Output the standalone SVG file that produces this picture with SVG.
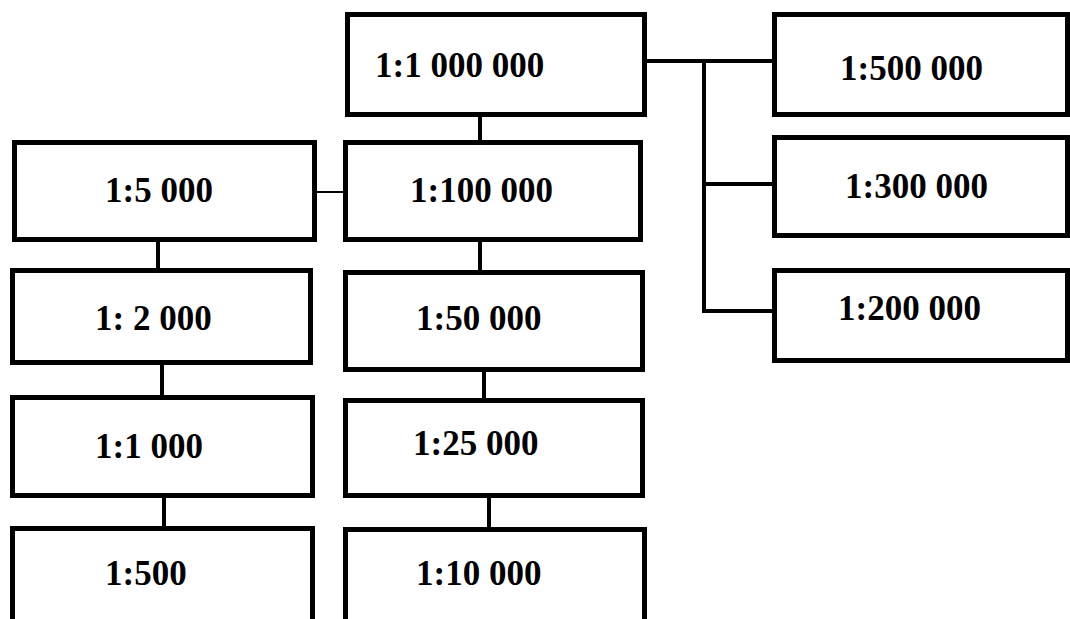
<svg xmlns="http://www.w3.org/2000/svg" width="1070" height="619" viewBox="0 0 1070 619">
<style>
.box{fill:#fff;stroke:#000;stroke-width:5}
.lbl{font-family:"Liberation Serif","Times New Roman",serif;font-weight:bold;font-size:35px;fill:#000}
.con{stroke:#000;stroke-width:4;fill:none}
</style>
<rect width="1070" height="619" fill="#fff"/>
<g id="connectors">
<line class="con" x1="480" y1="117" x2="480" y2="142"/>
<line class="con" x1="645" y1="61" x2="774" y2="61"/>
<polyline class="con" points="704,61 704,311 774,311"/>
<line class="con" x1="704" y1="184" x2="774" y2="184"/>
<line class="con" x1="315" y1="192" x2="345" y2="192" style="stroke-width:2"/>
<line class="con" x1="158" y1="240" x2="158" y2="270"/>
<line class="con" x1="162" y1="363" x2="162" y2="397"/>
<line class="con" x1="164" y1="496" x2="164" y2="527"/>
<line class="con" x1="480" y1="240" x2="480" y2="272"/>
<line class="con" x1="484" y1="370" x2="484" y2="400"/>
<line class="con" x1="489" y1="496" x2="489" y2="528"/>
</g>
<g id="n1000000"><rect class="box" x="347.5" y="14.5" width="297" height="100"/><text class="lbl" x="375" y="77">1:1 000 000</text></g>
<g id="n500000"><rect class="box" x="774.5" y="14.5" width="293" height="100"/><text class="lbl" x="840" y="80">1:500 000</text></g>
<g id="n300000"><rect class="box" x="774.5" y="137.5" width="293" height="98"/><text class="lbl" x="845" y="198">1:300 000</text></g>
<g id="n200000"><rect class="box" x="774.5" y="270.5" width="293" height="90"/><text class="lbl" x="838" y="320">1:200 000</text></g>
<g id="n100000"><rect class="box" x="345.5" y="142.5" width="295" height="97"/><text class="lbl" x="410" y="202">1:100 000</text></g>
<g id="n5000"><rect class="box" x="14.5" y="142.5" width="300" height="97"/><text class="lbl" x="105" y="202">1:5 000</text></g>
<g id="n2000"><rect class="box" x="12.5" y="270.5" width="298" height="92"/><text class="lbl" x="95" y="330">1: 2 000</text></g>
<g id="n50000"><rect class="box" x="345.5" y="272.5" width="297" height="97"/><text class="lbl" x="416" y="330">1:50 000</text></g>
<g id="n1000"><rect class="box" x="12.5" y="397.5" width="300" height="98"/><text class="lbl" x="95" y="458">1:1 000</text></g>
<g id="n25000"><rect class="box" x="345.5" y="400.5" width="297" height="95"/><text class="lbl" x="413" y="455">1:25 000</text></g>
<g id="n500"><rect class="box" x="12.5" y="528.5" width="300" height="110"/><text class="lbl" x="105" y="585">1:500</text></g>
<g id="n10000"><rect class="box" x="345.5" y="529.5" width="299" height="110"/><text class="lbl" x="416" y="585">1:10 000</text></g>
</svg>
